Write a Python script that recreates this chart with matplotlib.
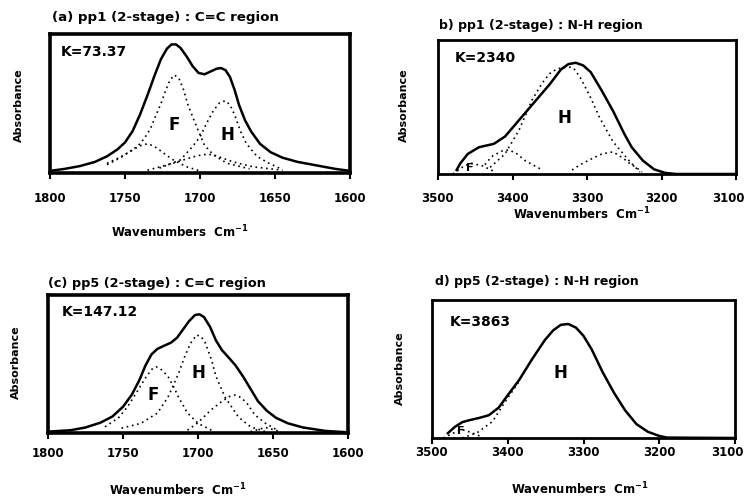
import matplotlib
matplotlib.use("Agg")
import matplotlib.pyplot as plt
from matplotlib.transforms import ScaledTranslation

plt.rcParams["font.family"] = ["DejaVu Sans"]
plt.rcParams["font.weight"] = "bold"

W, H = 744, 503

# ---- (a) pp1 C=C region ----
a_wn_total = [1800, 1790, 1780, 1770, 1762, 1755, 1750, 1745, 1740, 1735, 1730, 1726,
              1722, 1719, 1716, 1713, 1709, 1705, 1701, 1697, 1693, 1689, 1686, 1683,
              1680, 1677, 1674, 1670, 1666, 1660, 1653, 1645, 1635, 1620, 1610, 1600]
a_abs_total = [0.015, 0.03, 0.05, 0.08, 0.12, 0.17, 0.22, 0.30, 0.42, 0.56, 0.71, 0.82,
               0.895, 0.925, 0.925, 0.90, 0.84, 0.77, 0.72, 0.71, 0.73, 0.75, 0.755, 0.74,
               0.69, 0.60, 0.49, 0.38, 0.30, 0.21, 0.15, 0.11, 0.08, 0.05, 0.03, 0.015]
a_wn_F = [1762, 1753, 1746, 1741, 1737, 1733, 1730, 1726, 1723, 1720, 1717, 1714,
          1711, 1708, 1704, 1701, 1697, 1691, 1682, 1667]
a_abs_F = [0.06, 0.11, 0.16, 0.20, 0.25, 0.32, 0.40, 0.50, 0.59, 0.67, 0.705, 0.68,
           0.60, 0.49, 0.38, 0.30, 0.20, 0.13, 0.07, 0.03]
a_wn_H = [1727, 1713, 1705, 1700, 1695, 1691, 1687, 1683, 1680, 1677, 1673, 1669,
          1662, 1655, 1647]
a_abs_H = [0.035, 0.095, 0.19, 0.26, 0.37, 0.45, 0.505, 0.52, 0.49, 0.42, 0.30, 0.21,
           0.12, 0.075, 0.035]
a_wn_p3 = [1762, 1753, 1745, 1739, 1735, 1731, 1727, 1718, 1709, 1700]
a_abs_p3 = [0.07, 0.115, 0.165, 0.20, 0.21, 0.195, 0.165, 0.095, 0.045, 0.015]
a_wn_p4 = [1735, 1718, 1705, 1699, 1695, 1691, 1687, 1678, 1665, 1645]
a_abs_p4 = [0.02, 0.07, 0.115, 0.13, 0.135, 0.13, 0.115, 0.08, 0.045, 0.02]

# ---- (b) pp1 N-H region ----
b_wn_total = [3475, 3470, 3460, 3445, 3425, 3410, 3390, 3370, 3350, 3335, 3325, 3315,
              3305, 3295, 3280, 3265, 3250, 3240, 3225, 3210, 3195, 3180, 3100]
b_abs_total = [0.03, 0.08, 0.15, 0.20, 0.225, 0.28, 0.41, 0.54, 0.67, 0.78, 0.82, 0.83,
               0.81, 0.76, 0.62, 0.47, 0.30, 0.20, 0.10, 0.035, 0.008, 0.0, 0.0]
b_wn_H = [3430, 3410, 3391, 3374, 3360, 3350, 3340, 3325, 3318, 3309, 3296, 3283,
          3265, 3242, 3229]
b_abs_H = [0.05, 0.15, 0.33, 0.55, 0.68, 0.75, 0.785, 0.80, 0.79, 0.72, 0.58, 0.42,
           0.24, 0.09, 0.015]
b_wn_p2 = [3437, 3428, 3415, 3405, 3395, 3383, 3360]
b_abs_p2 = [0.07, 0.13, 0.17, 0.18, 0.155, 0.10, 0.03]
b_wn_p3 = [3320, 3309, 3295, 3280, 3265, 3252, 3243, 3233, 3226]
b_abs_p3 = [0.03, 0.07, 0.11, 0.15, 0.165, 0.12, 0.08, 0.045, 0.015]
b_wn_F = [3480, 3465, 3455, 3440, 3425]
b_abs_F = [0.0, 0.06, 0.08, 0.06, 0.02]

# ---- (c) pp5 C=C region ----
c_wn_total = [1800, 1785, 1775, 1765, 1757, 1750, 1744, 1739, 1735, 1731, 1727, 1722,
              1718, 1714, 1710, 1706, 1702, 1699, 1696, 1692, 1688, 1684, 1679, 1675,
              1670, 1665, 1660, 1654, 1648, 1640, 1630, 1615, 1600]
c_abs_total = [0.01, 0.02, 0.04, 0.075, 0.12, 0.19, 0.28, 0.385, 0.49, 0.57, 0.61, 0.635,
               0.655, 0.69, 0.75, 0.81, 0.855, 0.86, 0.84, 0.77, 0.67, 0.60, 0.54, 0.49,
               0.41, 0.32, 0.23, 0.16, 0.11, 0.07, 0.04, 0.015, 0.005]
c_wn_F = [1762, 1753, 1747, 1740, 1735, 1731, 1728, 1725, 1720, 1716, 1713, 1707,
          1700, 1691]
c_abs_F = [0.045, 0.11, 0.19, 0.31, 0.40, 0.46, 0.48, 0.465, 0.41, 0.33, 0.26, 0.145,
           0.07, 0.02]
c_wn_H = [1751, 1738, 1727, 1720, 1713, 1709, 1705, 1701, 1698, 1695, 1691, 1688,
          1682, 1673, 1665, 1655]
c_abs_H = [0.035, 0.07, 0.145, 0.26, 0.43, 0.55, 0.65, 0.71, 0.70, 0.65, 0.53, 0.41,
           0.26, 0.115, 0.045, 0.01]
c_wn_p3 = [1707, 1700, 1691, 1684, 1679, 1675, 1671, 1667, 1662, 1655, 1647]
c_abs_p3 = [0.02, 0.075, 0.17, 0.23, 0.265, 0.275, 0.255, 0.21, 0.13, 0.07, 0.02]
c_wn_p4 = [1665, 1655, 1645]
c_abs_p4 = [0.01, 0.04, 0.01]

# ---- (d) pp5 N-H region ----
d_wn_total = [3479, 3470, 3460, 3450, 3438, 3425, 3412, 3400, 3385, 3368, 3351, 3340,
              3330, 3320, 3310, 3300, 3289, 3275, 3260, 3245, 3230, 3215, 3200, 3190, 3100]
d_abs_total = [0.035, 0.08, 0.115, 0.13, 0.145, 0.165, 0.22, 0.31, 0.42, 0.57, 0.71, 0.78,
               0.82, 0.826, 0.80, 0.74, 0.64, 0.48, 0.33, 0.20, 0.10, 0.045, 0.015, 0.003, 0.0]
d_wn_H = [3460, 3440, 3420, 3405, 3385]
d_abs_H = [0.0, 0.04, 0.12, 0.25, 0.41]
d_wn_F = [3485, 3470, 3460, 3448, 3435]
d_abs_F = [0.0, 0.04, 0.06, 0.04, 0.01]

# pixel boxes (left, top, right, bottom) and text anchors
panels = [
    dict(box=(50, 34, 350, 173), xlim=(1800, 1600), ticks=[1800, 1750, 1700, 1650, 1600],
         title=("(a) pp1 (2-stage) : C=C region", 52, 17, 9.6), K=("K=73.37", 0.035, 0.87),
         xlab=(180, 232), ylab=(19, 105), pad=10, lw=2.6,
         total=(a_wn_total, a_abs_total),
         comps=[(a_wn_F, a_abs_F), (a_wn_H, a_abs_H), (a_wn_p3, a_abs_p3), (a_wn_p4, a_abs_p4)],
         labels=[("F", 1717, 0.345, 12), ("H", 1682, 0.27, 12)]),
    dict(box=(438, 40, 736, 174), xlim=(3500, 3100), ticks=[3500, 3400, 3300, 3200, 3100],
         title=("b) pp1 (2-stage) : N-H region", 439, 25, 9), K=("K=2340", 0.055, 0.866),
         xlab=(582, 214), ylab=(404, 105), pad=9, lw=2.0,
         total=(b_wn_total, b_abs_total),
         comps=[(b_wn_H, b_abs_H), (b_wn_p2, b_abs_p2), (b_wn_p3, b_abs_p3), (b_wn_F, b_abs_F)],
         labels=[("H", 3330, 0.42, 12), ("F", 3458, 0.045, 8)]),
    dict(box=(48, 295, 348, 433), xlim=(1800, 1600), ticks=[1800, 1750, 1700, 1650, 1600],
         title=("(c) pp5 (2-stage) : C=C region", 48, 283, 9.3), K=("K=147.12", 0.047, 0.877),
         xlab=(178, 490), ylab=(16, 362), pad=6, lw=2.6,
         total=(c_wn_total, c_abs_total),
         comps=[(c_wn_F, c_abs_F), (c_wn_H, c_abs_H), (c_wn_p3, c_abs_p3), (c_wn_p4, c_abs_p4)],
         labels=[("F", 1730, 0.275, 12), ("H", 1700, 0.435, 12)]),
    dict(box=(432, 300, 735, 438), xlim=(3500, 3100), ticks=[3500, 3400, 3300, 3200, 3100],
         title=("d) pp5 (2-stage) : N-H region", 435, 282, 9), K=("K=3863", 0.06, 0.84),
         xlab=(580, 489), ylab=(400, 368), pad=2, lw=2.0,
         total=(d_wn_total, d_abs_total),
         comps=[(d_wn_H, d_abs_H), (d_wn_F, d_abs_F)],
         labels=[("H", 3331, 0.47, 12), ("F", 3462, 0.05, 8)]),
]

fig = plt.figure(figsize=(W / 100, H / 100), dpi=100)

for p in panels:
    l, t, r, b = p["box"]
    ax = fig.add_axes([l / W, 1 - b / H, (r - l) / W, (b - t) / H])
    ax.set_xlim(*p["xlim"])
    ax.set_ylim(0, 1)
    ax.plot(*p["total"], color="black", lw=1.8, solid_joinstyle="round")
    for wn, ab in p["comps"]:
        ax.plot(wn, ab, color="black", lw=1.2, ls=(0, (1, 2.2)))
    for s, x, y, fs in p["labels"]:
        ax.text(x, y, s, fontsize=fs, fontweight="bold", ha="center", va="center")
    ax.text(p["K"][1], p["K"][2], p["K"][0], transform=ax.transAxes, fontsize=10,
            fontweight="bold", va="center")
    for sp in ax.spines.values():
        sp.set_linewidth(p["lw"])
    ax.set_yticks([])
    ax.set_xticks(p["ticks"])
    ax.set_xticklabels([str(v) for v in p["ticks"]], fontsize=8.5, fontweight="bold")
    ax.tick_params(axis="x", direction="out", length=4, width=1.5, pad=p["pad"])
    if p["xlim"][1] == 3100:
        # last label sits at the page edge, keep it inside
        last = ax.get_xticklabels()[-1]
        last.set_horizontalalignment("right")
        last.set_transform(last.get_transform() + ScaledTranslation(6 / 72, 0, fig.dpi_scale_trans))

    fig.text(p["title"][1] / W, 1 - p["title"][2] / H, p["title"][0], fontsize=p["title"][3],
             fontweight="bold", ha="left", va="center")
    fig.text(p["xlab"][0] / W, 1 - p["xlab"][1] / H, "Wavenumbers  Cm$^{-1}$",
             fontsize=8.5, fontweight="bold", ha="center", va="center")
    fig.text(p["ylab"][0] / W, 1 - p["ylab"][1] / H, "Absorbance", fontsize=8,
             fontweight="bold", ha="center", va="center", rotation=90)

fig.savefig("out.png", dpi=100)
